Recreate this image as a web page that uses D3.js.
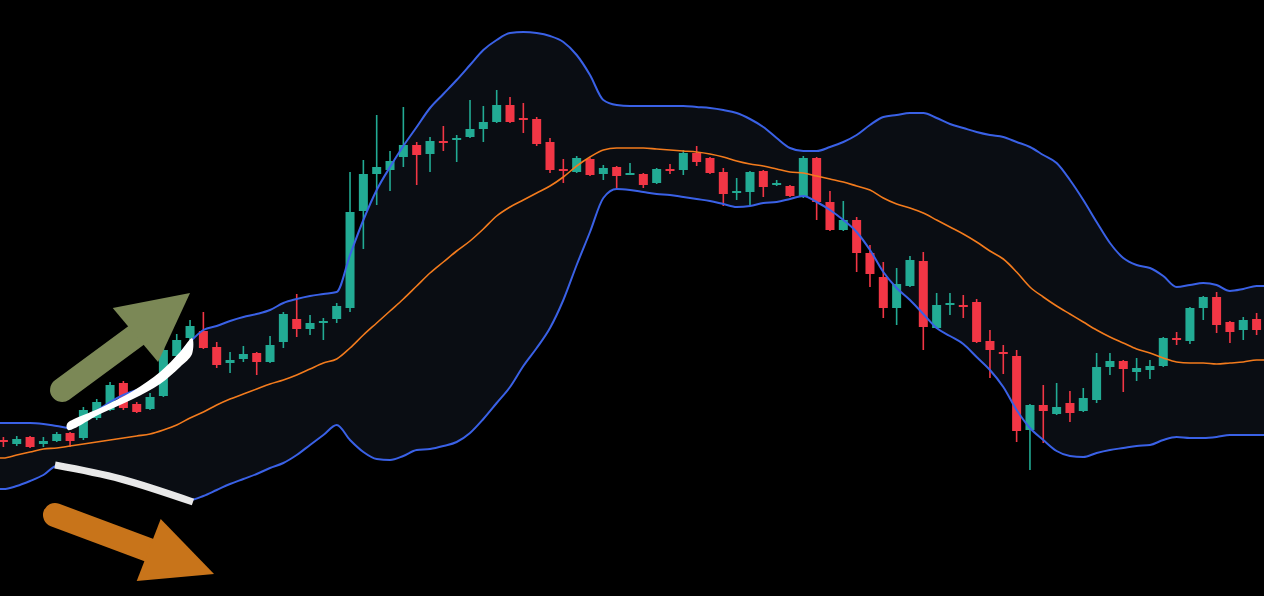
<!DOCTYPE html>
<html lang="en">

<head>
  <meta charset="UTF-8">
  <title>Bollinger Bands</title>
  <style>
    html,
    body {
      margin: 0;
      width: 100%;
      height: 100%;
      overflow: hidden;
      background: #000;
    }

    #chart {
      width: 1264px;
      height: 596px;
    }
  </style>
</head>

<body>
  <div id="chart"></div>

  <script src="https://d3js.org/d3.v7.min.js"></script>
  <script>
    // candle values, one per bar (price units)
    const opens = [
      60, 56, 63, 56, 59, 67, 62, 82, 90, 117,
      96, 91, 104, 144, 162, 169, 153, 137, 141, 147,
      138, 158, 181, 171, 177, 181, 192, 289, 326, 330,
      343, 355, 346, 359, 360, 363, 371, 378, 395, 382,
      381, 358, 331, 328, 341, 326, 333, 325, 326, 317,
      331, 330, 347, 342, 328, 307, 308, 329, 316, 314,
      303, 342, 298, 270, 280, 247, 223, 192, 214, 239,
      172, 195, 195, 198, 159, 148, 144, 70, 95, 86,
      97, 89, 100, 133, 139, 128, 130, 134, 162, 159,
      192, 203, 178, 170, 181
    ]
    const highs = [
      63, 64, 64, 63, 68, 68, 93, 101, 118, 119,
      98, 107, 152, 166, 180, 188, 158, 148, 154, 148,
      164, 188, 206, 185, 182, 197, 328, 340, 385, 349,
      393, 358, 363, 374, 365, 400, 394, 410, 403, 397,
      383, 362, 341, 344, 342, 335, 334, 337, 327, 332,
      336, 350, 354, 343, 332, 322, 329, 330, 320, 315,
      344, 343, 309, 299, 283, 255, 238, 232, 244, 248,
      207, 207, 205, 201, 170, 155, 150, 96, 115, 117,
      109, 112, 147, 147, 140, 142, 140, 163, 168, 193,
      204, 208, 179, 183, 187
    ]
    const lows = [
      53, 54, 52, 53, 58, 53, 60, 80, 89, 90,
      87, 90, 103, 142, 157, 151, 132, 127, 138, 125,
      137, 152, 163, 165, 160, 177, 188, 251, 295, 309,
      333, 315, 328, 349, 338, 362, 358, 377, 377, 367,
      354, 327, 317, 327, 324, 320, 310, 325, 312, 316,
      326, 325, 334, 326, 294, 300, 295, 303, 314, 303,
      302, 280, 269, 269, 228, 213, 182, 175, 213, 150,
      171, 185, 182, 157, 122, 126, 58, 30, 57, 85,
      78, 88, 97, 125, 108, 119, 121, 133, 155, 156,
      180, 167, 157, 160, 165
    ]
    const closes = [
      58, 61, 53, 59, 66, 59, 90, 98, 115, 92,
      88, 103, 150, 160, 174, 152, 135, 140, 146, 138,
      155, 186, 171, 177, 179, 194, 288, 326, 333, 339,
      355, 345, 359, 357, 362, 371, 378, 395, 378, 380,
      356, 330, 329, 342, 325, 332, 324, 327, 315, 331,
      329, 347, 338, 327, 306, 309, 328, 313, 317, 304,
      342, 298, 270, 280, 247, 226, 192, 216, 240, 173,
      195, 197, 193, 158, 150, 146, 69, 95, 89, 93,
      87, 102, 133, 139, 131, 132, 134, 162, 160, 192,
      203, 175, 168, 180, 170
    ]

    // bollinger bands
    const upperBand = [
      77, 77, 77, 76, 74, 72, 80, 89, 98, 105,
      110, 114, 126, 142, 158, 170, 174, 179, 183, 186,
      190, 197, 201, 204, 206, 208, 245, 280, 310, 333,
      354, 373, 392, 406, 420, 435, 450, 460, 467, 468,
      467, 464, 458, 445, 425, 400, 395, 394, 394, 394,
      394, 394, 393, 392, 390, 387, 381, 373, 362, 352,
      349, 349, 353, 358, 365, 375, 383, 385, 387, 387,
      382, 376, 372, 368, 365, 363, 358, 353, 345, 337,
      320, 300, 278, 257, 242, 235, 232, 224, 213, 215,
      217, 215, 209, 211, 214
    ]
    const middleBand = [
      42, 45, 48, 51, 52, 54, 56, 58, 60, 62,
      64, 66, 70, 75, 82, 88, 95, 101, 106, 111,
      116, 120, 125, 131, 137, 141, 152, 165, 177, 189,
      201, 214, 227, 238, 249, 259, 271, 284, 293, 300,
      307, 314, 323, 334, 343, 350, 352, 352, 352, 351,
      350, 349, 348, 346, 343, 339, 336, 334, 331, 328,
      327, 324, 321, 318, 314, 310, 302, 296, 292, 287,
      280, 273, 266, 258, 249, 241, 228, 213, 203, 194,
      186, 178, 170, 163, 157, 151, 147, 142, 138, 137,
      137, 136, 137, 138, 140
    ]
    const lowerBand = [
      11, 14, 19, 25, 34, 32, 29, 26, 23, 20,
      16, 12, 8, 4, 0, 4, 10, 16, 21, 26,
      32, 37, 45, 55, 65, 75, 60, 48, 41, 40,
      44, 50, 51, 54, 58, 67, 81, 97, 113, 134,
      152, 172, 200, 235, 268, 302, 311, 310, 308, 306,
      305, 303, 301, 299, 296, 293, 294, 297, 298, 301,
      304, 298, 290, 280, 268, 250, 228, 212, 200, 186,
      172, 164, 156, 143, 130, 113, 90, 72, 60, 49,
      44, 43, 47, 50, 52, 54, 55, 60, 63, 62,
      62, 63, 65, 65, 65
    ]

    // hand-drawn annotations, in [bar index, price]
    const upArrowShaft = [[4.4, 110], [10.0, 165]]
    const upArrowHead = [[8.2, 192], [14.0, 207], [11.6, 138]]
    const upperStroke = [
      [4.77, 76], [7.25, 92], [9.72, 109], [11.75, 128], [13.25, 148], [14.15, 162],
      [14.15, 146], [13.25, 133], [11.75, 116], [9.72, 101], [7.25, 86], [4.85, 70]
    ]
    const lowerStroke = [[3.87, 35], [8.82, 21], [14.22, -2]]
    const downArrowShaft = [[3.87, -15], [10.9, -50]]
    const downArrowHead = [[11.8, -19], [15.8, -74], [10.0, -81]]

    const width = 1264
    const height = 596
    const colors = {
      up: '#22ab94',
      down: '#f23645',
      band: '#3a61e6',
      basis: '#f37b1d',
      fill: '#0a0d13'
    }

    const x = d3.scaleLinear().domain([0, opens.length - 1]).range([3.4, 1256.6])
    const y = d3.scaleLinear().domain([-96, 500]).range([height, 0])

    const candles = opens.map((o, i) => ({
      i, o, h: highs[i], l: lows[i], c: closes[i]
    }))

    // band points, with the ends pulled out to the chart edges
    const bandPts = upperBand.map((u, i) => ({
      px: x(i), u, m: middleBand[i], l: lowerBand[i]
    }))
    bandPts.unshift({ ...bandPts[0], px: 0 })
    bandPts.push({ ...bandPts[bandPts.length - 1], px: width })

    function init() {
      const svg = d3.select('#chart').append('svg')
        .attr('width', width)
        .attr('height', height)

      svg.append('rect')
        .attr('width', width)
        .attr('height', height)
        .attr('fill', '#000')

      const curve = d3.curveMonotoneX

      svg.append('path')
        .datum(bandPts)
        .attr('d', d3.area().curve(curve).x(d => d.px).y0(d => y(d.l)).y1(d => y(d.u)))
        .attr('fill', colors.fill)

      const g = svg.append('g')

      const bars = g.selectAll('.candle')
        .data(candles)
        .enter()
        .append('g')
        .attr('class', 'candle')
        .attr('fill', d => d.c >= d.o ? colors.up : colors.down)
        .attr('stroke', d => d.c >= d.o ? colors.up : colors.down)

      bars.append('line')
        .attr('x1', d => x(d.i))
        .attr('x2', d => x(d.i))
        .attr('y1', d => y(d.h))
        .attr('y2', d => y(d.l))
        .attr('stroke-width', 1.6)

      bars.append('rect')
        .attr('x', d => x(d.i) - 4.5)
        .attr('width', 9)
        .attr('y', d => y(Math.max(d.o, d.c)))
        .attr('height', d => Math.max(2, Math.abs(y(d.o) - y(d.c))))
        .attr('stroke', 'none')

      const line = key => d3.line().curve(curve).x(d => d.px).y(d => y(d[key]))

      svg.append('path')
        .datum(bandPts)
        .attr('d', line('m'))
        .attr('fill', 'none')
        .attr('stroke', colors.basis)
        .attr('stroke-width', 1.6)

      ;['u', 'l'].forEach(k => {
        svg.append('path')
          .datum(bandPts)
          .attr('d', line(k))
          .attr('fill', 'none')
          .attr('stroke', colors.band)
          .attr('stroke-width', 2)
      })

      // annotations
      const toPx = p => [x(p[0]), y(p[1])]
      const ann = svg.append('g')

      ann.append('path')
        .attr('d', d3.line()(upArrowShaft.map(toPx)))
        .attr('stroke', '#7b8856')
        .attr('stroke-width', 24)
        .attr('stroke-linecap', 'round')
      ann.append('path')
        .attr('d', d3.line()(upArrowHead.map(toPx)) + 'Z')
        .attr('fill', '#7b8856')

      ann.append('path')
        .attr('d', d3.line().curve(d3.curveCatmullRomClosed)(upperStroke.map(toPx)))
        .attr('fill', '#ffffff')

      ann.append('path')
        .attr('d', d3.line().curve(d3.curveNatural)(lowerStroke.map(toPx)))
        .attr('fill', 'none')
        .attr('stroke', '#e8e8e8')
        .attr('stroke-width', 7)

      ann.append('path')
        .attr('d', d3.line()(downArrowShaft.map(toPx)))
        .attr('stroke', '#c8741a')
        .attr('stroke-width', 24)
        .attr('stroke-linecap', 'round')
      ann.append('path')
        .attr('d', d3.line()(downArrowHead.map(toPx)) + 'Z')
        .attr('fill', '#c8741a')
    }

    init()
  </script>
</body>

</html>
